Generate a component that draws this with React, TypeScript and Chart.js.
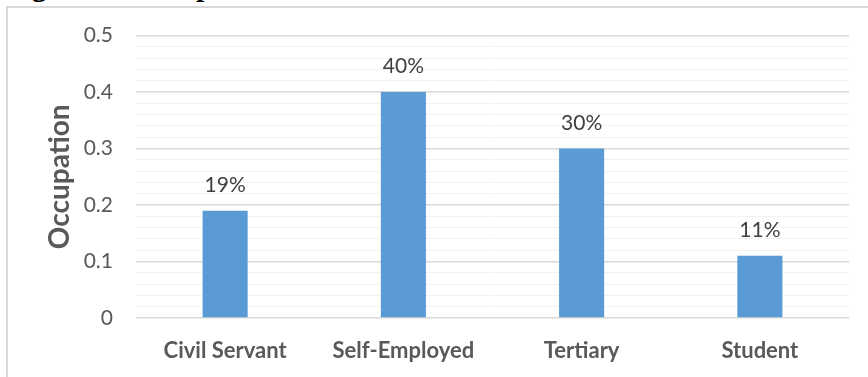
import React, { useEffect, useRef } from "react";
import { Chart, registerables } from "chart.js";

Chart.register(...registerables);

const categories = ["Civil Servant", "Self-Employed", "Tertiary", "Student"];
const shares = [0.19, 0.4, 0.3, 0.11];
const shareLabels = ["19%", "40%", "30%", "11%"];
const yMajorTicks = [0, 0.1, 0.2, 0.3, 0.4, 0.5];
const yTickLabels = ["0", "0.1", "0.2", "0.3", "0.4", "0.5"];
const yMinorStep = 0.02;
const yAxisTitle = "Occupation";
const figureCaption = "Figure 4: Occupation";

const majorIndex = (v: number) =>
  yMajorTicks.findIndex((m) => Math.abs(m - v) < 1e-6);

const dataLabelPlugin = {
  id: "dataLabels",
  afterDatasetsDraw(chart: any) {
    const meta = chart.getDatasetMeta(0);
    const ctx = chart.ctx;
    ctx.save();
    ctx.font = "21px Lato";
    ctx.fillStyle = "#404040";
    ctx.textAlign = "center";
    ctx.textBaseline = "alphabetic";
    meta.data.forEach((bar: any, i: number) => {
      ctx.fillText(shareLabels[i], bar.x, bar.y - 19);
    });
    ctx.restore();
  },
};

export default function App() {
  const ref = useRef<HTMLCanvasElement>(null);

  useEffect(() => {
    if (!ref.current) return;
    const chart = new Chart(ref.current, {
      type: "bar",
      data: {
        labels: categories,
        datasets: [
          {
            data: shares,
            backgroundColor: "#5b9bd5",
            borderWidth: 0,
            categoryPercentage: 1,
            barPercentage: 0.253,
          },
        ],
      },
      options: {
        responsive: false,
        animation: false,
        layout: { padding: { left: 0, right: 19, top: 35, bottom: 0 } },
        plugins: {
          legend: { display: false },
          tooltip: { enabled: false },
        },
        scales: {
          x: {
            grid: { display: false, drawTicks: false },
            border: { display: false },
            ticks: {
              color: "#595959",
              font: { family: "Lato", size: 22, weight: "bold" },
              padding: 20,
              maxRotation: 0,
            },
            afterFit: (scale: any) => {
              scale.height = 59;
            },
          },
          y: {
            min: 0,
            max: 0.5,
            border: { display: false },
            grid: {
              drawTicks: false,
              color: (c: any) =>
                majorIndex(c.tick?.value ?? 0) >= 0 ? "#d9d9d9" : "#f2f2f2",
              lineWidth: (c: any) =>
                majorIndex(c.tick?.value ?? 0) >= 0 ? 1.5 : 1,
            },
            ticks: {
              stepSize: yMinorStep,
              autoSkip: false,
              padding: 23,
              color: "#595959",
              font: { family: "Lato", size: 21 },
              callback: (v: any) => {
                const i = majorIndex(Number(v));
                return i >= 0 ? yTickLabels[i] : "";
              },
            },
            title: {
              display: true,
              text: yAxisTitle,
              color: "#595959",
              font: { family: "Lato", size: 28, weight: "bold" },
              padding: { top: 43, bottom: 0 },
            },
            afterFit: (scale: any) => {
              scale.width = 136;
            },
          },
        },
      },
      plugins: [dataLabelPlugin],
    });
    return () => chart.destroy();
  }, []);

  return (
    <div
      style={{
        position: "absolute",
        left: 0,
        top: 0,
        width: 868,
        height: 377,
        overflow: "hidden",
        background: "#ffffff",
      }}
    >
      <div
        style={{
          position: "absolute",
          left: 5,
          top: -29,
          fontFamily: "'Liberation Serif', serif",
          fontWeight: "bold",
          fontSize: 30,
          lineHeight: "30px",
          whiteSpace: "nowrap",
          color: "#000",
        }}
      >
        {figureCaption}
      </div>
      <div
        style={{
          position: "absolute",
          left: 6,
          top: 6,
          width: 880,
          height: 400,
          borderTop: "2px solid #d9d9d9",
          borderLeft: "2px solid #d9d9d9",
        }}
      />
      <canvas
        ref={ref}
        width={868}
        height={377}
        style={{ position: "absolute", left: 0, top: 0 }}
      />
    </div>
  );
}
